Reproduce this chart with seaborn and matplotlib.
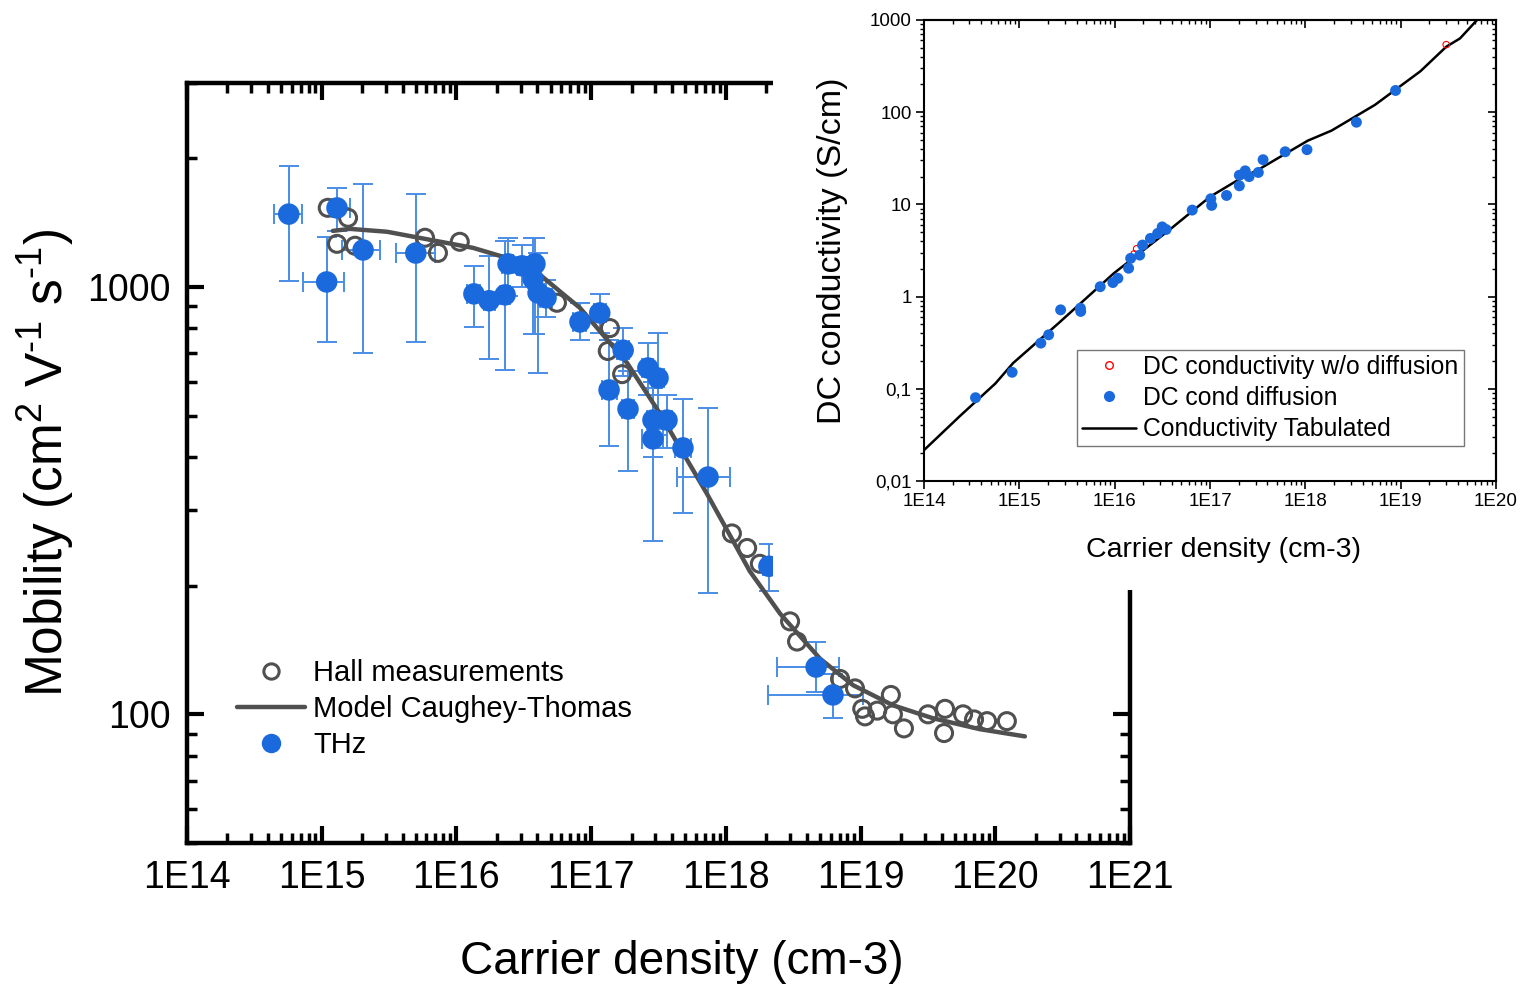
import numpy as np
import pandas as pd
import seaborn as sns
import matplotlib.pyplot as plt
from matplotlib.lines import Line2D
from matplotlib.patches import Rectangle
from matplotlib.ticker import LogLocator, NullFormatter

# ---- main panel data: mobility vs carrier density ----
hall_n = [1.11e15, 1.57e15, 1.30e15, 1.77e15, 5.85e15, 7.3e15, 1.06e16, 5.58e16,
          1.38e17, 1.33e17, 1.70e17, 1.11e18, 1.44e18, 1.79e18, 3.0e18, 3.38e18,
          7.05e18, 9.1e18, 1.03e19, 1.08e19, 1.33e19, 1.68e19, 1.74e19, 2.1e19,
          3.17e19, 4.24e19, 4.17e19, 5.77e19, 6.96e19, 8.7e19, 1.22e20]
hall_mu = [1531, 1451, 1261, 1248, 1303, 1201, 1275, 918,
           801, 708, 625, 265, 245, 225, 165, 148,
           121, 115, 103, 98.9, 102, 111, 100, 92.7,
           100, 103, 90.4, 100, 97.3, 96.4, 96.4]

model_n = [1.21e15, 1.62e15, 3.05e15, 1.33e16, 3.34e16, 6.18e16, 8.27e16, 1.85e17,
           3.25e17, 7.25e17, 1.51e18, 2.53e18, 5.0e18, 8.8e18, 1.74e19, 3.45e19,
           7.7e19, 1.66e20]
model_mu = [1352, 1367, 1346, 1234, 1132, 963, 893, 664,
            505, 328, 216, 172, 135, 117, 105, 97.9,
            92.3, 88.8]

thz_n = [5.7e14, 1.30e15, 1.09e15, 2.03e15, 5.0e15, 1.35e16, 1.75e16, 2.30e16,
         2.42e16, 3.07e16, 3.83e16, 3.71e16, 4.04e16, 4.63e16, 8.27e16, 1.16e17,
         1.73e17, 1.36e17, 1.88e17, 2.64e17, 3.14e17, 2.88e17, 3.66e17, 2.88e17,
         4.81e17, 7.38e17, 2.09e18, 4.68e18, 6.25e18]
thz_mu = [1480, 1530, 1027, 1220, 1200, 963, 928, 958,
          1132, 1120, 1132, 1044, 968, 943, 828, 869,
          711, 574, 518, 646, 612, 488, 488, 441,
          420, 359, 222, 129, 111]
thz_mu_lo = [1030, 1350, 743, 700, 743, 806, 678, 640,
             950, 1000, 776, 776, 630, 850, 752, 780,
             620, 425, 371, 560, 450, 400, 420, 254,
             296, 192, 194, 113, 98]
thz_mu_hi = [1920, 1700, 1310, 1740, 1650, 1120, 1180, 1282,
             1300, 1250, 1303, 1303, 1200, 1040, 918, 960,
             800, 752, 635, 740, 780, 580, 560, 600,
             547, 521, 250, 148, 124]
thz_n_lo = [4.4e14, 1.19e15, 7.3e14, 1.42e15, 3.57e15, 1.2e16, 1.6e16, 2.1e16,
            2.2e16, 2.8e16, 3.5e16, 3.4e16, 3.7e16, 4.2e16, 7.4e16, 1.05e17,
            1.55e17, 1.2e17, 1.7e17, 2.4e17, 2.85e17, 2.6e17, 3.3e17, 2.4e17,
            4.2e17, 4.35e17, 1.9e18, 2.4e18, 2.05e18]
thz_n_hi = [7.2e14, 1.62e15, 1.47e15, 2.71e15, 6.93e15, 1.5e16, 1.95e16, 2.5e16,
            2.65e16, 3.35e16, 4.2e16, 4.1e16, 4.45e16, 5.1e16, 9.2e16, 1.28e17,
            1.92e17, 1.55e17, 2.1e17, 2.9e17, 3.45e17, 3.2e17, 4.0e17, 3.4e17,
            5.5e17, 1.07e18, 2.25e18, 6.92e18, 1.04e19]

# ---- inset data: DC conductivity vs carrier density ----
dc_n = [3.47e14, 8.4e14, 1.68e15, 2.03e15, 2.71e15, 4.37e15, 4.4e15, 7.05e15,
        9.57e15, 1.08e16, 1.40e16, 1.47e16, 1.83e16, 1.96e16, 2.37e16, 2.82e16,
        3.15e16, 3.46e16, 6.5e16, 1.02e17, 1.04e17, 1.49e17, 2.03e17, 2.03e17,
        2.34e17, 2.57e17, 3.21e17, 3.60e17, 6.14e17, 1.04e18, 3.43e18, 8.83e18]
dc_sigma = [0.080, 0.151, 0.313, 0.385, 0.718, 0.748, 0.69, 1.28,
            1.42, 1.58, 2.03, 2.6, 2.82, 3.62, 4.27, 4.84,
            5.70, 5.34, 8.67, 11.5, 9.75, 12.5, 15.9, 20.7,
            23.1, 20.0, 22.2, 30.5, 37.2, 39.2, 77.8, 172]
nodiff_n = [1.6e16, 1.7e16, 3.0e19]
nodiff_sigma = [2.9, 3.3, 540]
tab_n = [1e14, 2.37e14, 5.6e14, 8.6e14, 2.58e15, 9.8e15, 3.76e16, 1e17,
         1.9e17, 3.37e17, 1.06e18, 1.88e18, 5.37e18, 1.61e19, 3.0e19, 4.19e19,
         6.32e19, 1e20]
tab_sigma = [0.0216, 0.0504, 0.114, 0.19, 0.515, 1.79, 5.3, 12.1,
             18.0, 24.5, 49.1, 63.1, 120, 278, 512, 631,
             1000, 2000]

hall = pd.DataFrame({"n": hall_n, "mu": hall_mu})
model = pd.DataFrame({"n": model_n, "mu": model_mu})
thz = pd.DataFrame({"n": thz_n, "mu": thz_mu, "mu_lo": thz_mu_lo, "mu_hi": thz_mu_hi,
                    "n_lo": thz_n_lo, "n_hi": thz_n_hi})
dc = pd.DataFrame({"n": dc_n, "sigma": dc_sigma})
nodiff = pd.DataFrame({"n": nodiff_n, "sigma": nodiff_sigma})
tab = pd.DataFrame({"n": tab_n, "sigma": tab_sigma})

sns.set_theme(style="ticks")
plt.rcParams["font.family"] = ["Liberation Sans", "DejaVu Sans"]
plt.rcParams["mathtext.fontset"] = "custom"
plt.rcParams["mathtext.rm"] = "Liberation Sans"
plt.rcParams["mathtext.it"] = "Liberation Sans"
plt.rcParams["text.color"] = "black"
plt.rcParams["axes.labelcolor"] = "black"

blue = "#1a6ade"
ebar = "#4a8de6"
grey = "#505050"

fig = plt.figure(figsize=(15.21, 9.84), dpi=100)

# main axes
ax = fig.add_axes([0.1229, 0.1433, 0.62, 0.7724])
ax.set_xscale("log")
ax.set_yscale("log")

ax.errorbar(thz["n"], thz["mu"],
            yerr=[thz["mu"] - thz["mu_lo"], thz["mu_hi"] - thz["mu"]],
            xerr=[thz["n"] - thz["n_lo"], thz["n_hi"] - thz["n"]],
            fmt="none", ecolor=ebar, elinewidth=1.4, capsize=7, capthick=1.4, zorder=2)
sns.scatterplot(data=hall, x="n", y="mu", ax=ax, marker="o", s=150, color="none",
                edgecolor=grey, linewidth=2.2, zorder=3)
sns.lineplot(data=model, x="n", y="mu", ax=ax, color=grey, lw=3.2, sort=False, zorder=4)
sns.scatterplot(data=thz, x="n", y="mu", ax=ax, marker="o", s=240, color=blue,
                edgecolor="none", zorder=5)

ax.set_xlim(1e14, 1e21)
ax.set_ylim(50, 3000)
ax.set_xticks([10.0 ** k for k in range(14, 22)],
              ["1E%d" % k for k in range(14, 22)])
ax.set_yticks([100, 1000], ["100", "1000"])
ax.xaxis.set_minor_locator(LogLocator(base=10, subs=np.arange(2, 10), numticks=100))
ax.yaxis.set_minor_locator(LogLocator(base=10, subs=np.arange(2, 10), numticks=100))
ax.xaxis.set_minor_formatter(NullFormatter())
ax.yaxis.set_minor_formatter(NullFormatter())
ax.tick_params(which="both", direction="in", top=True, right=True, labelsize=27,
               colors="black")
ax.tick_params(which="major", length=12, width=3, pad=12)
ax.tick_params(which="minor", length=7, width=2.5)
for sp in ax.spines.values():
    sp.set_linewidth(3.2)
    sp.set_color("black")
ax.set_xlabel("Carrier density (cm-3)", fontsize=33, color="black")
ax.set_ylabel(r"Mobility (cm$^{2}$ V$^{\text{-1}}$ s$^{\text{-1}}$)", fontsize=37,
              color="black")
ax.xaxis.set_label_coords(0.525, -0.127)
ax.yaxis.set_label_coords(-0.118, 0.5)

main_handles = [
    Line2D([], [], ls="", marker="o", ms=11, mfc="none", mec=grey, mew=2.2),
    Line2D([], [], color=grey, lw=3.2),
    Line2D([], [], ls="", marker="o", ms=14, mfc=blue, mec="none"),
]
ax.legend(main_handles, ["Hall measurements", "Model Caughey-Thomas", "THz"],
          loc="upper left", bbox_to_anchor=(0.035, 0.265), frameon=False,
          fontsize=21, handlelength=2.3, handletextpad=0.3, labelspacing=0.28,
          borderpad=0.1, labelcolor="black")

# white block behind the inset
fig.patches.append(Rectangle((773 / 1521, 1 - 590 / 984), 1, 1, transform=fig.transFigure,
                             facecolor="white", edgecolor="none", zorder=1))

# inset axes
ax2 = fig.add_axes([0.6075, 0.5112, 0.3761, 0.4685], zorder=2)
ax2.set_xscale("log")
ax2.set_yscale("log")
sns.lineplot(data=tab, x="n", y="sigma", ax=ax2, color="black", lw=1.8, sort=False, zorder=2)
sns.scatterplot(data=nodiff, x="n", y="sigma", ax=ax2, marker="o", s=22, color="none",
                edgecolor="red", linewidth=0.8, zorder=3)
sns.scatterplot(data=dc, x="n", y="sigma", ax=ax2, marker="o", s=62, color=blue,
                edgecolor="none", zorder=4)
ax2.set_xlim(1e14, 1e20)
ax2.set_ylim(0.01, 1000)
ax2.set_xticks([10.0 ** k for k in range(14, 21)],
               ["1E%d" % k for k in range(14, 21)])
ax2.set_yticks([0.01, 0.1, 1, 10, 100, 1000], ["0,01", "0,1", "1", "10", "100", "1000"])
ax2.xaxis.set_minor_locator(LogLocator(base=10, subs=np.arange(2, 10), numticks=100))
ax2.yaxis.set_minor_locator(LogLocator(base=10, subs=np.arange(2, 10), numticks=100))
ax2.xaxis.set_minor_formatter(NullFormatter())
ax2.yaxis.set_minor_formatter(NullFormatter())
ax2.tick_params(which="both", direction="out", labelsize=13.5, colors="black")
ax2.tick_params(which="major", length=6, width=1.2, pad=3)
ax2.tick_params(which="minor", length=3, width=1)
for sp in ax2.spines.values():
    sp.set_linewidth(1.5)
    sp.set_color("black")

top = ax2.secondary_xaxis("top")
top.set_xticks([10.0 ** k for k in range(14, 21)])
top.xaxis.set_minor_locator(LogLocator(base=10, subs=np.arange(2, 10), numticks=100))
top.tick_params(which="both", direction="in", labeltop=False, colors="black")
top.tick_params(which="major", length=6, width=1.2)
top.tick_params(which="minor", length=3, width=1)
top.spines["top"].set_linewidth(1.5)
right = ax2.secondary_yaxis("right")
right.set_yticks([0.01, 0.1, 1, 10, 100, 1000])
right.yaxis.set_minor_locator(LogLocator(base=10, subs=np.arange(2, 10), numticks=100))
right.tick_params(which="both", direction="in", labelright=False, colors="black")
right.tick_params(which="major", length=6, width=1.2)
right.tick_params(which="minor", length=3, width=1)
right.spines["right"].set_linewidth(1.5)

ax2.set_xlabel("Carrier density (cm-3)", fontsize=20.5, color="black")
ax2.set_ylabel("DC conductivity (S/cm)", fontsize=24.5, color="black")
ax2.xaxis.set_label_coords(0.523, -0.122)
ax2.yaxis.set_label_coords(-0.132, 0.5)

inset_handles = [
    Line2D([], [], ls="", marker="o", ms=5.5, mfc="none", mec="red", mew=1),
    Line2D([], [], ls="", marker="o", ms=8, mfc=blue, mec="none"),
    Line2D([], [], color="black", lw=1.8),
]
leg = ax2.legend(inset_handles, ["DC conductivity w/o diffusion", "DC cond diffusion",
                                 "Conductivity Tabulated"],
                 loc="upper left", bbox_to_anchor=(0.267, 0.285), fontsize=17.8,
                 frameon=True, fancybox=False, edgecolor="#777777", framealpha=1,
                 handlelength=2.2, handletextpad=0.3, labelspacing=0.3, borderpad=0.2,
                 borderaxespad=0, labelcolor="black")
leg.get_frame().set_linewidth(1)

fig.savefig("out.png", dpi=100, facecolor="white")
